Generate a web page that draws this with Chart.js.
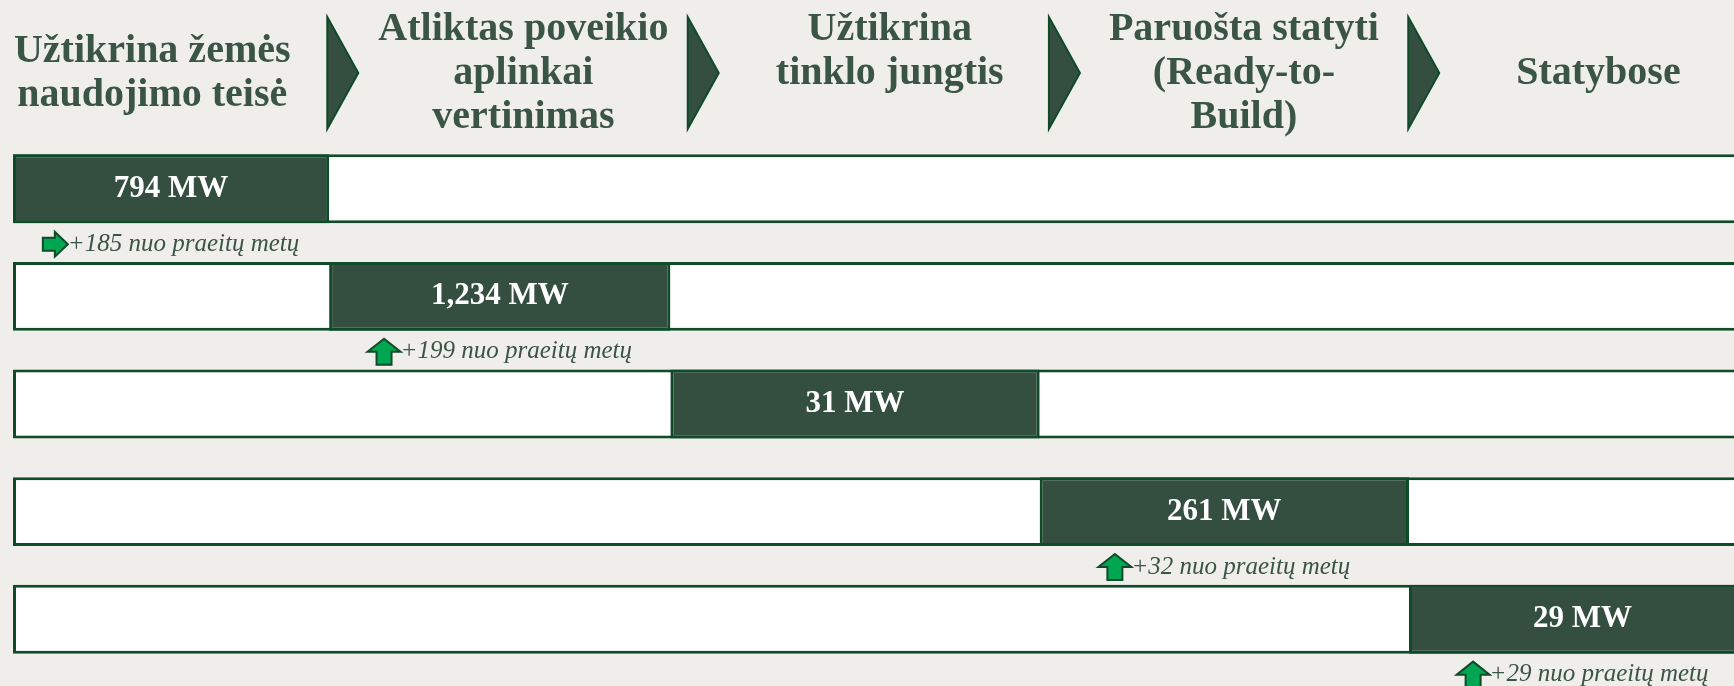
<!DOCTYPE html>
<html>
<head>
<meta charset="utf-8">
<script src="https://cdn.jsdelivr.net/npm/chart.js@4"></script>
<style>
  html, body { margin: 0; padding: 0; background: #f0eeea; }
  #wrap { width: 1734px; height: 686px; position: relative; }
</style>
</head>
<body>
<div id="wrap"><canvas id="pipeline-chart"></canvas></div>
<script>
// Stages of the project pipeline (header texts, already broken into lines)
const stageLines = [
  ['Užtikrina žemės', 'naudojimo teisė'],
  ['Atliktas poveikio', 'aplinkai', 'vertinimas'],
  ['Užtikrina', 'tinklo jungtis'],
  ['Paruošta statyti', '(Ready-to-', 'Build)'],
  ['Statybose']
];
const rows = ['land', 'eia', 'grid', 'rtb', 'construction'];
const capacityMW = [794, 1234, 31, 261, 29];
const changeMW = [185, 199, null, 32, 29];
// where each stage sits on the x axis (stage units)
const stageStart = [0, 0.856, 1.78, 2.78, 3.78];
const stageEnd = [0.856, 1.78, 2.78, 3.78, 4.72];

const dark = '#344e40';
const line = '#0f4a29';
const textGreen = '#3a5446';
const serif = '"Liberation Serif", "DejaVu Serif", serif';

// header layout (x in stage units, y in px)
const headerCenter = [0.377, 1.382, 2.374, 3.333, 4.293];
const headerTop = [52, 30, 30, 30, 74];
const chevronAt = [0.851, 1.827, 2.805, 3.778];

function upArrow(ctx, x, y) {
  ctx.beginPath();
  ctx.moveTo(x + 16.5, y);
  ctx.lineTo(x + 33, y + 13);
  ctx.lineTo(x + 24, y + 13);
  ctx.lineTo(x + 24, y + 26);
  ctx.lineTo(x + 9, y + 26);
  ctx.lineTo(x + 9, y + 13);
  ctx.lineTo(x, y + 13);
  ctx.closePath();
  ctx.fill();
  ctx.stroke();
}

function rightArrow(ctx, x, y) {
  ctx.beginPath();
  ctx.moveTo(x, y + 6);
  ctx.lineTo(x + 12, y + 6);
  ctx.lineTo(x + 12, y);
  ctx.lineTo(x + 25, y + 12.5);
  ctx.lineTo(x + 12, y + 25);
  ctx.lineTo(x + 12, y + 19);
  ctx.lineTo(x, y + 19);
  ctx.closePath();
  ctx.fill();
  ctx.stroke();
}

const decorations = {
  id: 'decorations',
  afterDatasetsDraw(chart) {
    const ctx = chart.ctx;
    const xs = chart.scales.x;
    const ys = chart.scales.y;
    ctx.save();

    // header texts
    ctx.fillStyle = textGreen;
    ctx.font = 'bold 40px ' + serif;
    ctx.textAlign = 'center';
    ctx.textBaseline = 'middle';
    stageLines.forEach((lines, i) => {
      const cx = xs.getPixelForValue(headerCenter[i]);
      lines.forEach((t, j) => ctx.fillText(t, cx, headerTop[i] + j * 44));
    });

    // header chevrons
    ctx.fillStyle = dark;
    ctx.strokeStyle = line;
    ctx.lineWidth = 2;
    chevronAt.forEach(v => {
      const x = xs.getPixelForValue(v);
      ctx.beginPath();
      ctx.moveTo(x, 17);
      ctx.lineTo(x + 31, 73);
      ctx.lineTo(x, 129);
      ctx.closePath();
      ctx.fill();
      ctx.stroke();
    });

    // value labels and change notes
    const meta = chart.getDatasetMeta(0);
    meta.data.forEach((bar, i) => {
      const cx = xs.getPixelForValue((stageStart[i] + stageEnd[i]) / 2);
      const cy = ys.getPixelForValue(i);
      ctx.fillStyle = '#ffffff';
      ctx.font = 'bold 31px ' + serif;
      ctx.textAlign = 'center';
      ctx.textBaseline = 'middle';
      ctx.fillText(capacityMW[i].toLocaleString('en-US') + ' MW', cx, cy);

      if (changeMW[i] === null) return;
      const note = '+' + changeMW[i] + ' nuo praeitų metų';
      ctx.font = 'italic 25px ' + serif;
      const tw = ctx.measureText(note).width;
      const aw = i === 0 ? 25 : 33;
      const bottom = cy + bar.height / 2;
      const ny = bottom + 21;
      const left = cx - (aw + tw) / 2;
      ctx.fillStyle = '#00a651';
      ctx.strokeStyle = line;
      ctx.lineWidth = 2;
      if (i === 0) rightArrow(ctx, left, ny - 12.5);
      else upArrow(ctx, left, ny - 13);
      ctx.fillStyle = textGreen;
      ctx.textAlign = 'left';
      ctx.fillText(note, left + aw, ny);
    });
    ctx.restore();
  }
};

new Chart(document.getElementById('pipeline-chart'), {
  type: 'bar',
  data: {
    labels: rows,
    datasets: [
      {
        label: 'stage',
        data: rows.map((r, i) => [stageStart[i], stageEnd[i]]),
        backgroundColor: dark,
        borderColor: line,
        borderWidth: 3,
        borderSkipped: false
      },
      {
        label: 'track',
        data: rows.map(() => [stageStart[0], stageEnd[stageEnd.length - 1]]),
        backgroundColor: '#ffffff',
        borderColor: line,
        borderWidth: 3,
        borderSkipped: false
      }
    ]
  },
  options: {
    indexAxis: 'y',
    responsive: true,
    maintainAspectRatio: false,
    animation: false,
    grouped: false,
    barPercentage: 0.64,
    categoryPercentage: 1,
    layout: { padding: { top: 135, bottom: 13, left: 13, right: 0 } },
    scales: {
      x: { type: 'linear', min: 0, max: 4.66, display: false },
      y: { display: false }
    },
    plugins: {
      legend: { display: false },
      tooltip: { enabled: false }
    }
  },
  plugins: [decorations]
});
</script>
</body>
</html>
